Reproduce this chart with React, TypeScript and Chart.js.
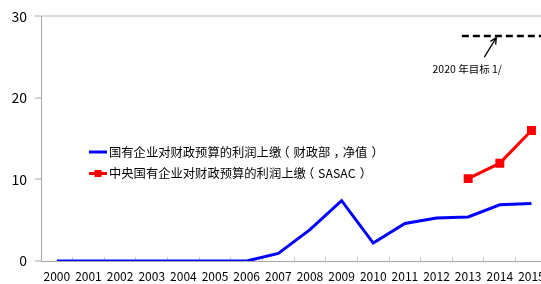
import React, { useEffect, useRef } from "react";
import { Chart, registerables } from "chart.js";

Chart.register(...registerables);

const years = ["2000","2001","2002","2003","2004","2005","2006","2007","2008","2009","2010","2011","2012","2013","2014","2015"];
const profitMoF = [0, 0, 0, 0, 0, 0, 0, 0.93, 3.85, 7.4, 2.2, 4.6, 5.27, 5.4, 6.9, 7.05];
const profitSASAC = [null, null, null, null, null, null, null, null, null, null, null, null, null, 10.1, 12.0, 16.0];
const target2020X = [12.8, 15.6];
const target2020Y = [27.6, 27.6];
const yTicks = [0, 10, 20, 30];
const labelMoF = "国有企业对财政预算的利润上缴（财政部，净值）";
const labelSASAC = "中央国有企业对财政预算的利润上缴（SASAC）";
const noteText = "2020 年目标 1/";
const arrowFrom = { x: 13.51, y: 25.0 };
const arrowTo = { x: 13.89, y: 27.4 };
const notePos = { x: 12.97, y: 23.5 };

const FONT = '"Noto Sans CJK SC", "Noto Sans", sans-serif';
const CENTERED_PUNCT = "（），";

function drawSpacedText(ctx: CanvasRenderingContext2D, text: string, x: number, y: number, size: number) {
  let cx = x;
  for (const ch of Array.from(text)) {
    const code = ch.codePointAt(0) || 0;
    if (CENTERED_PUNCT.includes(ch)) {
      const m = ctx.measureText(ch);
      const inkW = m.actualBoundingBoxLeft + m.actualBoundingBoxRight;
      ctx.fillText(ch, cx + (size - inkW) / 2 + m.actualBoundingBoxLeft, y);
    } else {
      ctx.fillText(ch, cx, y);
    }
    cx += code >= 0x2e80 ? size : ctx.measureText(ch).width;
  }
}

const annotationPlugin = {
  id: "annot",
  afterDatasetsDraw(chart: any) {
    const { ctx } = chart;
    const xs = chart.scales.x2;
    const ys = chart.scales.y;
    const x1 = xs.getPixelForValue(arrowFrom.x), y1 = ys.getPixelForValue(arrowFrom.y);
    const x2 = xs.getPixelForValue(arrowTo.x), y2 = ys.getPixelForValue(arrowTo.y);
    ctx.save();
    ctx.strokeStyle = "#000";
    ctx.lineWidth = 1.3;
    ctx.beginPath();
    ctx.moveTo(x1, y1);
    ctx.lineTo(x2, y2);
    const ang = Math.atan2(y2 - y1, x2 - x1);
    const h = 7;
    ctx.moveTo(x2 - h * Math.cos(ang - 0.45), y2 - h * Math.sin(ang - 0.45));
    ctx.lineTo(x2, y2);
    ctx.lineTo(x2 - h * Math.cos(ang + 0.45), y2 - h * Math.sin(ang + 0.45));
    ctx.stroke();
    ctx.fillStyle = "#000";
    ctx.font = `10.5px ${FONT}`;
    ctx.textAlign = "center";
    ctx.textBaseline = "middle";
    ctx.fillText(noteText, xs.getPixelForValue(notePos.x), ys.getPixelForValue(notePos.y));
    ctx.restore();
  },
};

const legendPlugin = {
  id: "inlegend",
  afterDraw(chart: any) {
    const { ctx } = chart;
    const items = chart.data.datasets.filter((d: any) => d.inLegend);
    ctx.save();
    items.forEach((d: any, i: number) => {
      const y = 152 + i * 21.5;
      ctx.strokeStyle = d.borderColor;
      ctx.lineWidth = 3;
      ctx.beginPath();
      ctx.moveTo(89, y);
      ctx.lineTo(107, y);
      ctx.stroke();
      if (d.pointRadius > 0) {
        ctx.fillStyle = d.pointBackgroundColor;
        ctx.fillRect(98 - 3.5, y - 3.5, 7, 7);
      }
      ctx.fillStyle = "#000";
      const size = 12.3;
      ctx.font = `${size}px ${FONT}`;
      ctx.textAlign = "left";
      ctx.textBaseline = "middle";
      drawSpacedText(ctx, d.label, 109, y, size);
    });
    ctx.restore();
  },
};

export default function App() {
  const ref = useRef<HTMLCanvasElement>(null);
  useEffect(() => {
    if (!ref.current) return;
    Chart.defaults.font.family = FONT;
    const chart = new Chart(ref.current, {
      type: "line",
      data: {
        labels: years,
        datasets: [
          {
            label: labelMoF,
            data: profitMoF,
            borderColor: "#0000FF",
            backgroundColor: "#0000FF",
            borderWidth: 3,
            pointRadius: 0,
            tension: 0,
            inLegend: true,
          } as any,
          {
            label: labelSASAC,
            data: profitSASAC,
            borderColor: "#FF0000",
            backgroundColor: "#FF0000",
            pointBackgroundColor: "#FF0000",
            pointBorderColor: "#FF0000",
            pointStyle: "rect",
            pointRadius: 4.2,
            borderWidth: 3,
            tension: 0,
            inLegend: true,
          } as any,
          {
            label: "2020",
            data: target2020X.map((x, i) => ({ x, y: target2020Y[i] })),
            xAxisID: "x2",
            borderColor: "#000",
            borderWidth: 2.5,
            borderDash: [7, 4],
            pointRadius: 0,
          } as any,
        ],
      },
      options: {
        animation: false,
        responsive: false,
        layout: { padding: { top: 14, left: 0, right: 0, bottom: 0 } },
        plugins: { legend: { display: false }, tooltip: { enabled: false } },
        scales: {
          x: {
            type: "category",
            offset: true,
            grid: {
              offset: true,
              drawOnChartArea: false,
              drawTicks: true,
              tickLength: -4,
              tickColor: "#c8c8c8",
            },
            border: { color: "#a6a6a6", width: 1 },
            ticks: { color: "#000", font: { size: 12, family: FONT }, padding: 12, maxRotation: 0, autoSkip: false },
            afterFit(s: any) { s.height = 23; },
          },
          x2: {
            type: "linear",
            display: false,
            min: -0.5,
            max: 15.5,
          },
          y: {
            min: 0,
            max: 30,
            afterBuildTicks(s: any) { s.ticks = yTicks.map((v) => ({ value: v })); },
            grid: {
              color: (c: any) => (c.tick && c.tick.value === 30 ? "#d9d9d9" : "rgba(0,0,0,0)"),
              lineWidth: 2,
              tickLength: 6,
              tickColor: "#a6a6a6",
              tickWidth: 1,
            },
            border: { color: "#a6a6a6", width: 1 },
            ticks: { color: "#000", font: { size: 14, family: FONT }, padding: 8 },
            afterFit(s: any) { s.width = 41; },
          },
        },
      } as any,
      plugins: [annotationPlugin, legendPlugin],
    });
    return () => chart.destroy();
  }, []);
  return (
    <div style={{ position: "absolute", left: 0, top: 0, width: 541, height: 284, overflow: "hidden", background: "#fff" }}>
      <canvas ref={ref} width={557} height={284} style={{ display: "block" }} />
    </div>
  );
}
